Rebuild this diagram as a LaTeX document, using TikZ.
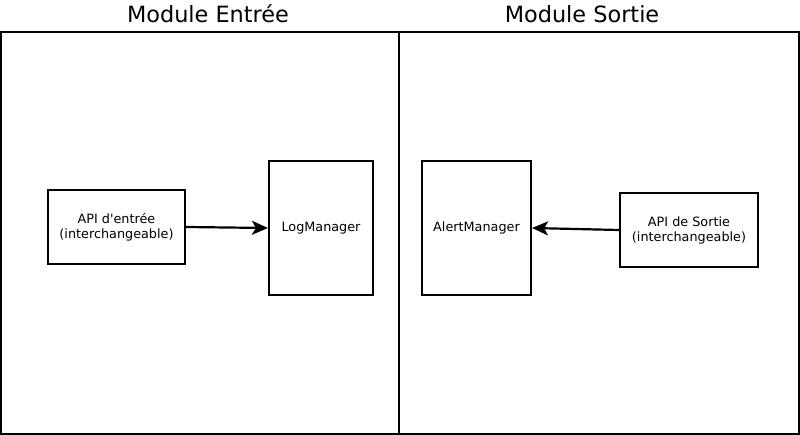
\documentclass[tikz,border=0pt]{standalone}
\usepackage{fontspec}
\newfontfamily\plainsans{DejaVu Sans}
\usetikzlibrary{arrows.meta}
\begin{document}
\begin{tikzpicture}[x=1pt,y=-1pt,
  every node/.style={font=\plainsans},
  frame/.style={draw=black,line width=2.4pt},
  box/.style={draw=black,line width=2.2pt,inner sep=0pt,font=\plainsans\fontsize{12.8}{15}\selectfont,align=center},
  title/.style={font=\plainsans\fontsize{22.4}{26}\selectfont},
  flow/.style={line width=2.2pt,-{Stealth[length=16pt,width=14pt,inset=4pt]}}]
\useasboundingbox (0,0) rectangle (800,435);
\fill[white] (0,0) rectangle (800,435);
\draw[frame] (1.2,32) rectangle (798.8,433.8);
\draw[frame] (399,32) -- (399,433.8);
\node[title] (t1) at (208,14) {Module Entrée};
\node[title] (t2) at (582,14) {Module Sortie};
\node[box,minimum width=137pt,minimum height=74pt] (api1) at (116.5,227) {API d'entrée\\(interchangeable)};
\node[box,minimum width=104pt,minimum height=134pt] (log) at (321,228) {LogManager};
\node[box,minimum width=109pt,minimum height=134pt] (alert) at (476.5,228) {AlertManager};
\node[box,minimum width=138pt,minimum height=74pt] (api2) at (689,230) {API de Sortie\\(interchangeable)};
\draw[flow] (api1.east) -- (log.west);
\draw[flow] (api2.west) -- (alert.east);
\end{tikzpicture}
\end{document}
